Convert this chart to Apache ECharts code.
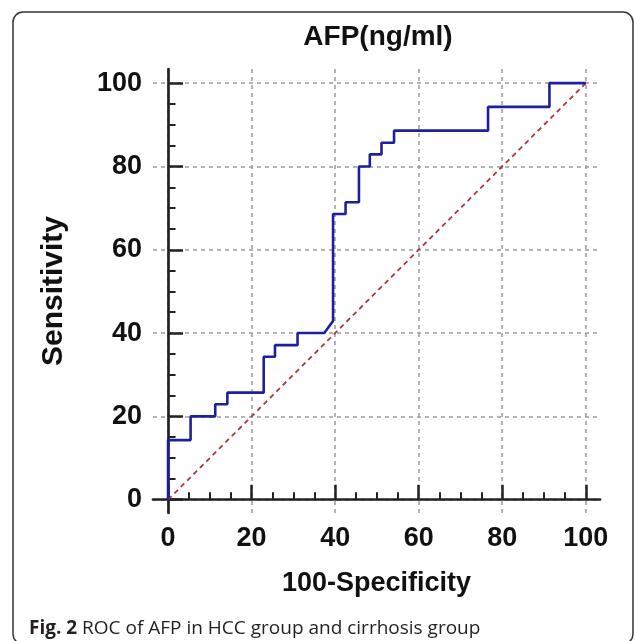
<!DOCTYPE html>
<html>
<head>
    <meta charset="utf-8">
    <title>ROC of AFP</title>
    <script src="https://cdn.jsdelivr.net/npm/echarts@6/dist/echarts.min.js"></script>
</head>
<body style="margin:0;background:#fff;">
    <div id="main" style="width:634px;height:641px;"></div>
    <script>
        // ROC curve corners
        let fpr = [0, 0, 5.4, 5.4, 11.3, 11.3, 14.2, 14.2, 22.9, 22.9, 25.6, 25.6, 31.0, 31.0, 37.4,
            39.5, 39.5, 42.5, 42.5, 45.7, 45.7, 48.3, 48.3, 51.1, 51.1, 54.1, 54.1, 76.6, 76.6, 91.3, 91.3, 100];
        let tpr = [0, 14.3, 14.3, 20.0, 20.0, 22.9, 22.9, 25.7, 25.7, 34.3, 34.3, 37.1, 37.1, 40.0, 40.0,
            42.9, 68.6, 68.6, 71.4, 71.4, 80.0, 80.0, 82.9, 82.9, 85.7, 85.7, 88.6, 88.6, 94.3, 94.3, 100, 100];
        let diagonal = [0, 100];
        let majorTicks = [0, 20, 40, 60, 80, 100];
        let minorTicks = [5, 10, 15, 25, 30, 35, 45, 50, 55, 65, 70, 75, 85, 90, 95];

        let rocData = fpr.map(function (x, i) { return [x, tpr[i]]; });
        let diagData = diagonal.map(function (v) { return [v, v]; });

        let labelFont = {
            fontFamily: 'Liberation Sans',
            fontWeight: 'bold',
            fontSize: 27,
            color: '#111'
        };

        function mainAxis(isX) {
            return {
                type: 'value',
                position: isX ? 'bottom' : 'left',
                min: isX ? -3.6 : -3.2,
                max: 103.4,
                name: isX ? '100-Specificity' : 'Sensitivity',
                nameLocation: 'middle',
                nameGap: isX ? 57 : 84,
                nameTextStyle: {
                    fontFamily: 'Liberation Sans',
                    fontWeight: 'bold',
                    fontSize: isX ? 27 : 30,
                    color: '#111'
                },
                axisLine: { show: true, lineStyle: { color: '#222', width: 2.7 } },
                axisTick: {
                    show: true, inside: true, length: 15, customValues: majorTicks,
                    lineStyle: { color: '#222', width: 2.5 }
                },
                minorTick: { show: false },
                axisLabel: Object.assign({ customValues: majorTicks, margin: isX ? 12 : 11 }, labelFont),
                splitLine: {
                    show: true,
                    lineStyle: { color: '#9a9a9a', width: 1.5, type: [4, 4] }
                }
            };
        }

        function minorAxis(isX) {
            return {
                type: 'value',
                position: isX ? 'bottom' : 'left',
                min: isX ? -3.6 : -3.2,
                max: 103.4,
                axisLine: { show: false },
                axisTick: {
                    show: true, inside: true, length: 7.5, customValues: minorTicks,
                    lineStyle: { color: '#222', width: 2 }
                },
                axisLabel: { show: false },
                splitLine: { show: false }
            };
        }

        let myChart = echarts.init(document.getElementById('main'));

        let option = {
            backgroundColor: '#fff',
            animation: false,
            title: {
                text: 'AFP(ng/ml)',
                left: 378,
                top: 23,
                padding: 0,
                textAlign: 'center',
                textStyle: {
                    fontFamily: 'Liberation Sans',
                    fontWeight: 'bold',
                    fontSize: 28,
                    color: '#111'
                }
            },
            grid: {
                left: 153,
                right: 34,
                top: 69,
                bottom: 128,
                containLabel: false,
                outerBoundsMode: 'none'
            },
            xAxis: [mainAxis(true), minorAxis(true)],
            yAxis: [mainAxis(false), minorAxis(false)],
            graphic: [
                {
                    type: 'rect',
                    shape: { x: 13, y: 12, width: 620, height: 632, r: 10 },
                    style: { fill: 'none', stroke: '#333', lineWidth: 1.5 },
                    silent: true
                },
                {
                    type: 'text',
                    left: 29,
                    top: 619,
                    style: {
                        text: '{b|Fig. 2} ROC of AFP in HCC group and cirrhosis group',
                        fontFamily: 'Open Sans',
                        fontSize: 19,
                        fill: '#231f20',
                        rich: {
                            b: { fontFamily: 'Open Sans', fontWeight: 'bold', fontSize: 19, fill: '#231f20' }
                        }
                    }
                }
            ],
            series: [
                {
                    name: 'chance',
                    type: 'line',
                    xAxisIndex: 0,
                    yAxisIndex: 0,
                    data: diagData,
                    symbol: 'none',
                    lineStyle: { color: '#a83a3a', width: 1.8, type: [5, 4] },
                    z: 3
                },
                {
                    name: 'AFP',
                    type: 'line',
                    xAxisIndex: 0,
                    yAxisIndex: 0,
                    data: rocData,
                    symbol: 'none',
                    lineStyle: { color: '#1f1f9c', width: 2.6 },
                    z: 4
                }
            ]
        };

        myChart.setOption(option);
    </script>
</body>
</html>
